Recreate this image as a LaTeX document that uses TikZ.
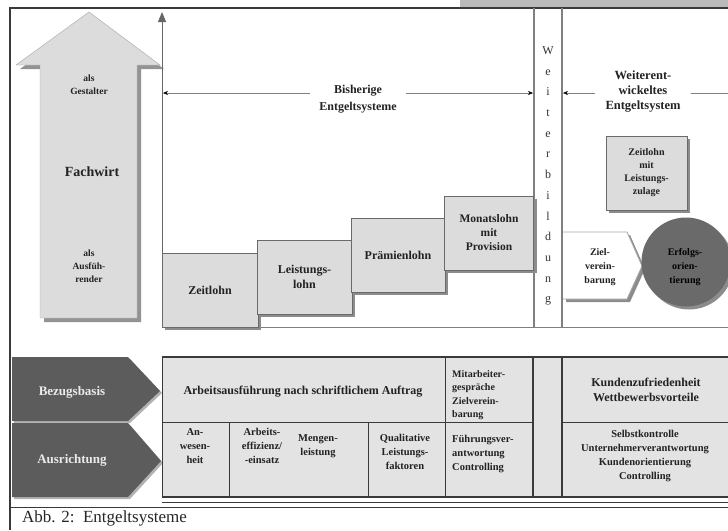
\documentclass[tikz,border=0pt]{standalone}
\usepackage{fontspec}
\setmainfont{Liberation Serif}
\usetikzlibrary{arrows.meta,shadows}
\definecolor{boxfill}{HTML}{DCDCDC}
\definecolor{tabfill}{HTML}{E3E3E3}
\definecolor{edge}{HTML}{6A6A6A}
\definecolor{shadowc}{HTML}{8C8C8C}
\definecolor{darkfill}{HTML}{5C5C5C}
\definecolor{circfill}{HTML}{6A6A6A}
\definecolor{barc}{HTML}{BABABA}
\definecolor{txtc}{HTML}{222222}
\definecolor{linec}{HTML}{3A3A3A}
\begin{document}
\begin{tikzpicture}[x=1pt,y=-1pt,
  every node/.style={inner sep=0pt},
  lbl/.style={font=\bfseries\fontsize{10.5}{14}\selectfont, align=center, text=txtc},
  big/.style={font=\bfseries\fontsize{12}{15}\selectfont, align=center, text=txtc},
  sml/.style={font=\bfseries\fontsize{9.5}{13}\selectfont, align=center, text=txtc},
  shad/.style={drop shadow={shadow xshift=3pt, shadow yshift=-3pt, fill=shadowc, opacity=1}},
  stepbox/.style={big, draw=edge, line width=1pt, fill=boxfill, minimum height=74pt, shad},
  dimline/.style={draw=gray, line width=0.5pt, -{Stealth[length=5pt,width=4pt,black]}},
  sep/.style={draw=gray, line width=1.3pt},
  tline/.style={draw=linec, line width=1pt},
  chev/.style={fill=darkfill, drop shadow={shadow xshift=2pt, shadow yshift=-2pt, fill=gray!60, opacity=1}},
  chevtxt/.style={font=\bfseries\fontsize{13}{15}\selectfont, text=white!92!black},
]
\useasboundingbox (0,0) rectangle (728,530);
% frame
\fill[barc] (460,0) rectangle (728,7);
\draw[linec, line width=1.2pt] (10,530) -- (10,8) -- (728,8);
\draw[linec, line width=0.8pt] (10,507) -- (728,507);

% big arrow
\path[fill=boxfill, draw=gray!70, line width=0.4pt, drop shadow={shadow xshift=4pt, shadow yshift=-4pt, fill=gray!85, opacity=1}]
  (40,318) -- (40,65) -- (16,65) -- (89,12) -- (160,65) -- (137,65) -- (137,318) -- cycle;
\node[sml] (gest) at (89,85) {als\\Gestalter};
\node[font=\bfseries\fontsize{14}{16}\selectfont, text=txtc] (fw) at (92,172) {Fachwirt};
\node[sml] (ausf) at (89,266) {als\\Ausfüh-\\render};

% axes
\coordinate (axB) at (162,327);
\coordinate (axT) at (162,12);
\draw[gray!80!black, line width=1pt, -{Triangle[length=10pt,width=8pt]}] (axB) -- (axT);
\coordinate (hR) at (728,327);
\draw[gray, line width=0.8pt] (axB) -- (hR);

% Weiterbildung column
\coordinate (wl1) at (534,8);  \coordinate (wl2) at (534,327);
\coordinate (wr1) at (562,8);  \coordinate (wr2) at (562,327);
\draw[sep] (wl1) -- (wl2);
\draw[sep] (wr1) -- (wr2);
\node[font=\fontsize{12}{20.7}\selectfont, align=center, text=gray!40!black] (wb) at (548,176)
  {W\\e\\i\\t\\e\\r\\b\\i\\l\\d\\u\\n\\g};

% dimension lines
\node[big, inner xsep=9pt, font=\bfseries\fontsize{12}{17}\selectfont] (bis) at (358,99) {Bisherige\\Entgeltsysteme};
\coordinate (dL) at (163,93);
\coordinate (dR) at (533,93);
\draw[dimline] (bis.west |- dL) -- (dL);
\draw[dimline] (bis.east |- dR) -- (dR);
\node[big, inner xsep=10pt, font=\bfseries\fontsize{12.5}{15}\selectfont] (wei) at (643,92) {Weiterent-\\wickeltes\\Entgeltsystem};
\coordinate (eL) at (563,93);
\coordinate (eR) at (728,93);
\draw[dimline] (wei.west |- eL) -- (eL);
\draw[draw=gray, line width=0.5pt] (wei.east |- eR) -- (eR);

% steps
\node[stepbox, minimum width=96pt] (zl) at (210,290) {\raisebox{-3pt}{Zeitlohn}};
\node[stepbox, minimum width=95pt] (ll) at (304.5,277) {Leistungs-\\lohn};
\node[stepbox, minimum width=94pt] (pl) at (398,255) {Prämienlohn};
\node[stepbox, minimum width=89pt, font=\bfseries\fontsize{11.5}{14}\selectfont] (ml) at (489,233) {Monatslohn\\mit\\Provision};

% right side
\node[stepbox, minimum width=81pt, font=\bfseries\fontsize{10}{13}\selectfont] (zlz) at (646.5,173) {Zeitlohn\\mit\\Leistungs-\\zulage};
\path[fill=white, draw=gray!70, line width=0.8pt, shad] (563,232) -- (627,232) -- (642,266) -- (627,299) -- (563,299);
\node[sml, font=\bfseries\fontsize{10}{14}\selectfont] (ziel) at (600,267) {Ziel-\\verein-\\barung};
\node[circle, fill=circfill, minimum size=89pt, shad] (erf) at (686,262) {};
\node[font=\bfseries\fontsize{10}{14}\selectfont, align=center, text=black] (erft) at (685,267) {Erfolgs-\\orien-\\tierung};

% chevrons
\path[chev] (12,357) -- (128,357) -- (160,391) -- (128,421) -- (12,421) -- cycle;
\path[chev] (12,423) -- (128,423) -- (161,461) -- (128,497) -- (12,497) -- cycle;
\node[chevtxt] (bez) at (72,392) {Bezugsbasis};
\node[chevtxt] (aus) at (72,460) {Ausrichtung};

% table
\fill[tabfill] (162,357) rectangle (728,497);
\draw[linec, line width=1.6pt] (162,357) -- (728,357);
\draw[linec, line width=1.2pt] (162,497) -- (728,497);
\draw[linec, line width=0.8pt] (162,502) -- (728,502);
\draw[tline] (162,357) -- (162,497);
\draw[tline] (445,357) -- (445,497);
\draw[tline, line width=1.3pt] (533,357) -- (533,497);
\draw[tline, line width=1.3pt] (562,357) -- (562,497);
\draw[tline] (229,422) -- (229,497);
\draw[tline] (368,422) -- (368,497);
\draw[tline] (162,422) -- (533,422);
\draw[tline] (562,422) -- (728,422);

\node[big] (arb) at (303,392) {Arbeitsausführung nach schriftlichem Auftrag};
\node[lbl, align=left, anchor=west, font=\bfseries\fontsize{10}{13.3}\selectfont] (mit) at (452,395) {Mitarbeiter-\\gespräche\\Zielverein-\\barung};
\node[big, font=\bfseries\fontsize{12}{15}\selectfont] (kun) at (646,390) {Kundenzufriedenheit\\Wettbewerbsvorteile};
\node[lbl] (anw) at (195,446) {An-\\wesen-\\heit};
\node[lbl] (eff) at (262,446) {Arbeits-\\effizienz/\\-einsatz};
\node[lbl] (men) at (318,446) {Mengen-\\leistung};
\node[lbl] (qua) at (405,452) {Qualitative\\Leistungs-\\faktoren};
\node[lbl, align=left, anchor=west] (fue) at (452,454) {Führungsver-\\antwortung\\Controlling};
\node[lbl] (sel) at (645,456) {Selbstkontrolle\\Unternehmerverantwortung\\Kundenorientierung\\Controlling};

% caption
\node[font=\fontsize{17}{19}\selectfont, anchor=west, text=black!85] (cap) at (22,518) {Abb. 2:\ \ Entgeltsysteme};
\end{tikzpicture}
\end{document}
